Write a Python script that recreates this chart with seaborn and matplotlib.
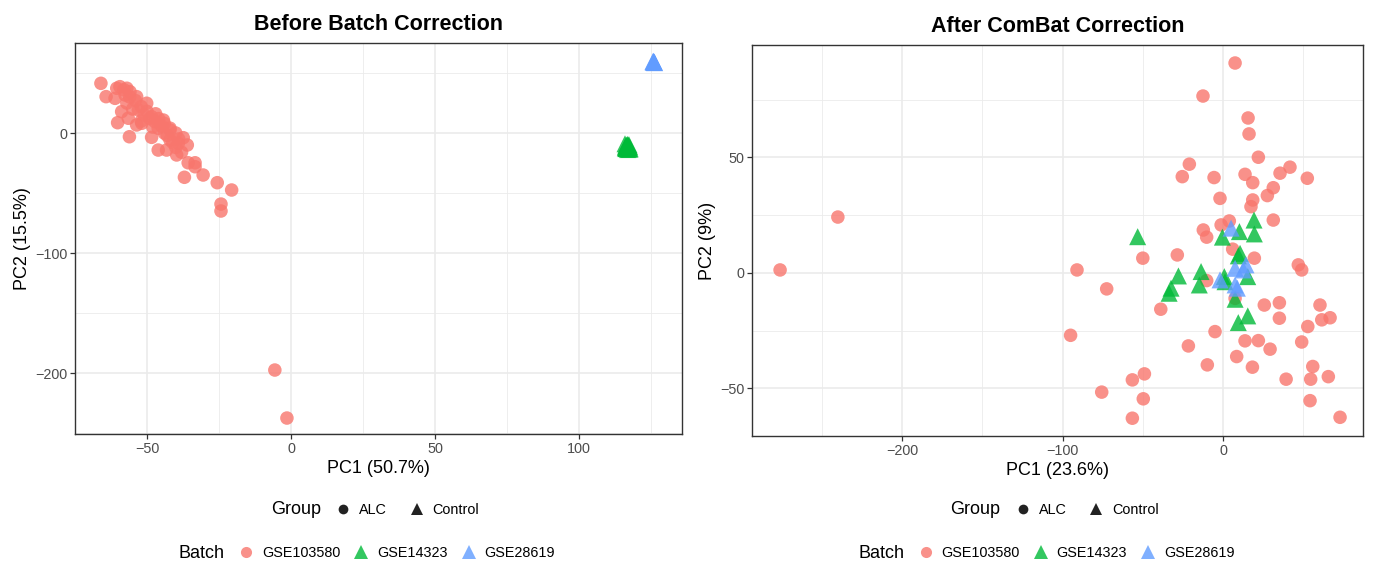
import numpy as np
import pandas as pd
import matplotlib
matplotlib.use("Agg")
import matplotlib.pyplot as plt
import seaborn as sns
from matplotlib.lines import Line2D
from matplotlib.ticker import MultipleLocator

# ---------------- data ----------------
batches = ["GSE103580", "GSE14323", "GSE28619"]
groups = ["ALC", "Control"]
batch_colors = ["#F8766D", "#00BA38", "#619CFF"]
batch_group = ["ALC", "Control", "Control"]

# Before correction (PC1 50.7%, PC2 15.5%)
before_gse103580_pc1 = [-66.0, -64.2, -60.5, -59.4, -57.0, -55.9, -53.6, -57.6, -61.1, -50.1,
                        -53.0, -58.8, -56.5, -60.2, -53.6, -51.8, -48.4, -47.2, -44.3, -46.1,
                        -42.0, -48.4, -56.1, -42.0, -37.4, -39.1, -46.1, -43.2, -39.7, -35.7,
                        -33.3, -33.3, -37.0, -30.5, -25.6, -20.6, -24.3, -24.3, -5.6, -1.4,
                        -58.0, -56.0, -52.0, -50.0, -49.0, -47.0, -45.0, -44.0, -43.0, -41.0,
                        -40.0, -38.0, -54.0, -51.0, -46.0, -44.0, -42.0, -40.0, -39.0, -36.0,
                        -48.0, -52.0, -55.0, -57.0]
before_gse103580_pc2 = [41.4, 30.3, 37.3, 38.6, 37.3, 34.4, 30.3, 31.7, 28.9, 24.8,
                        19.2, 17.8, 12.3, 8.6, 6.7, 8.1, 13.6, 9.4, 10.8, 3.9,
                        2.5, -3.6, -3.1, -5.8, -3.9, -8.6, -14.2, -14.2, -18.3, -24.8,
                        -24.8, -28.1, -36.9, -35.0, -41.4, -47.5, -59.2, -65.0, -197.5, -237.5,
                        36.0, 30.0, 22.0, 18.0, 12.0, 16.0, 6.0, 0.0, -2.0, -8.0,
                        -12.0, -16.0, 27.0, 15.0, 12.0, 8.0, 4.0, 0.0, -5.0, -10.0,
                        5.0, 10.0, 20.0, 25.0]
before_gse14323_pc1 = [116.0, 116.5, 117.0, 117.5, 116.2, 116.8, 117.3, 116.4, 117.1,
                       117.6, 116.1, 116.9, 117.4, 116.6, 117.2, 116.3, 117.8, 116.7]
before_gse14323_pc2 = [-9.0, -10.5, -12.0, -13.5, -11.0, -9.5, -12.5, -13.0, -10.0,
                       -11.5, -12.2, -13.8, -9.8, -11.8, -10.8, -12.8, -13.2, -10.2]
before_gse28619_pc1 = [125.8, 126.0, 126.2, 125.9, 126.1, 126.3, 125.7]
before_gse28619_pc2 = [59.0, 59.4, 58.8, 59.8, 59.2, 58.6, 59.5]

# After ComBat correction (PC1 23.6%, PC2 9%)
after_gse103580_pc1 = [22.0, -21.0, -25.4, -5.6, 13.7, 18.5, 35.5, 41.7, 52.5, 31.3,
                       27.6, -1.9, 18.5, 17.4, 31.3, -1.2, 3.9, -12.3, -10.2, -28.5,
                       -50.0, 6.0, 19.5, 46.9, 49.0, -72.5, -10.2, -38.8, 25.7, 35.1,
                       35.1, 60.4, 66.7, 61.5, 52.8, -5.0, -21.6, 13.7, 22.0, 49.0,
                       29.3, 7.5, -12.5, 15.6, 16.2, -276.0, -240.0, -95.0, -91.0, -75.6,
                       7.5, 8.5, -9.8, 18.3, 55.9, 39.3, 54.6, 65.6, 54.2, 72.9,
                       -49.0, -56.5, -49.7, -56.5]
after_gse103580_pc2 = [50.1, 47.1, 41.7, 41.3, 42.7, 39.1, 43.2, 45.8, 41.0, 36.9,
                       33.5, 32.3, 31.6, 28.7, 22.9, 20.8, 22.5, 18.6, 15.5, 7.8,
                       6.4, 10.3, 6.4, 3.5, 1.3, -6.9, -3.3, -15.7, -13.9, -12.9,
                       -19.6, -13.9, -19.4, -20.3, -23.2, -25.4, -31.6, -29.4, -29.3, -29.9,
                       -33.0, 90.9, 76.6, 67.1, 60.2, 1.3, 24.2, -27.0, 1.3, -51.6,
                       -11.0, -36.2, -39.8, -40.8, -40.5, -46.0, -46.0, -44.9, -55.3, -62.5,
                       -43.7, -46.3, -54.5, -62.9]
after_gse14323_pc1 = [-53.2, 19.3, 10.2, 19.5, -0.4, 10.6, 9.5, -27.8, -13.7, -14.8,
                      -32.4, -33.6, 0.8, 1.2, 15.4, 7.5, 15.4, 9.5]
after_gse14323_pc2 = [15.7, 22.9, 17.9, 16.9, 15.5, 8.5, 7.4, -1.3, 0.6, -5.2,
                      -6.6, -8.8, -1.6, -3.8, -1.6, -11.4, -18.6, -21.5]
after_gse28619_pc1 = [5.0, 7.5, 14.3, 12.6, -1.9, 7.5, 8.9]
after_gse28619_pc2 = [19.4, 2.0, 3.5, 1.3, -3.0, -5.2, -6.6]


def make_df(p1s, p2s):
    rows = []
    for b, g, p1, p2 in zip(batches, batch_group, p1s, p2s):
        for x, y in zip(p1, p2):
            rows.append((x, y, b, g))
    return pd.DataFrame(rows, columns=["PC1", "PC2", "Batch", "Group"])


df_before = make_df([before_gse103580_pc1, before_gse14323_pc1, before_gse28619_pc1],
                    [before_gse103580_pc2, before_gse14323_pc2, before_gse28619_pc2])
df_after = make_df([after_gse103580_pc1, after_gse14323_pc1, after_gse28619_pc1],
                   [after_gse103580_pc2, after_gse14323_pc2, after_gse28619_pc2])

# ---------------- style ----------------
sns.set_theme(style="white")
plt.rcParams["font.family"] = ["Liberation Sans", "DejaVu Sans"]
plt.rcParams["text.color"] = "black"
plt.rcParams["axes.labelcolor"] = "black"
plt.rcParams["axes.titlecolor"] = "black"

W, H = 1375, 564
fig = plt.figure(figsize=(W / 100, H / 100), dpi=100)
palette = dict(zip(batches, batch_colors))

def fx(px):
    return px / W

def fy(py):
    return 1 - py / H

panels = [
    dict(df=df_before, rect=(75, 43, 682, 434), title="Before Batch Correction",
         xlabel="PC1 (50.7%)", ylabel="PC2 (15.5%)", xlim=(-75, 135.8), ylim=(-250.8, 75),
         xmaj=50, xmin=25, ymaj=100, ymin=50),
    dict(df=df_after, rect=(752, 45, 1363, 436), title="After ComBat Correction",
         xlabel="PC1 (23.6%)", ylabel="PC2 (9%)", xlim=(-293.5, 87.2), ylim=(-70.6, 98.7),
         xmaj=100, xmin=50, ymaj=50, ymin=25),
]

for i, p in enumerate(panels):
    l, t, r, b = p["rect"]
    ax = fig.add_axes([fx(l), fy(b), fx(r - l), (b - t) / H])
    d = p["df"]
    sns.scatterplot(data=d[d.Group == "ALC"], x="PC1", y="PC2", hue="Batch", palette=palette,
                    marker="o", s=95, alpha=0.8, edgecolor="none", legend=False, ax=ax, zorder=3)
    sns.scatterplot(data=d[d.Group == "Control"], x="PC1", y="PC2", hue="Batch", palette=palette,
                    marker="^", s=150, alpha=0.8, edgecolor="none", legend=False, ax=ax, zorder=3)
    ax.set_xlim(*p["xlim"])
    ax.set_ylim(*p["ylim"])
    ax.xaxis.set_major_locator(MultipleLocator(p["xmaj"]))
    ax.xaxis.set_minor_locator(MultipleLocator(p["xmin"]))
    ax.yaxis.set_major_locator(MultipleLocator(p["ymaj"]))
    ax.yaxis.set_minor_locator(MultipleLocator(p["ymin"]))
    ax.grid(True, which="major", color="#EBEBEB", linewidth=1.2, zorder=0)
    ax.grid(True, which="minor", color="#EBEBEB", linewidth=0.6, zorder=0)
    ax.set_axisbelow(True)
    for s in ax.spines.values():
        s.set_color("#333333")
        s.set_linewidth(1.0)
        s.set_visible(True)
    ax.tick_params(which="major", direction="out", length=3.5, width=0.9, color="#333333",
                   labelcolor="#4D4D4D", labelsize=10.4, pad=2, bottom=True, left=True)
    ax.tick_params(which="minor", length=0)
    ax.set_xlabel(p["xlabel"], fontsize=13, color="black", labelpad=3)
    ax.set_ylabel(p["ylabel"], fontsize=13, color="black", labelpad=3)
    ax.set_title(p["title"], fontsize=15.5, fontweight="bold", pad=9, color="black")

    off = 0 if i == 0 else 679.5
    # Group legend
    fig.text(fx(321 + off), fy(510), "Group", fontsize=13, ha="right", va="center")
    gh = [Line2D([], [], linestyle="none", marker="o", markersize=7, color="#222222",
                 markeredgewidth=0),
          Line2D([], [], linestyle="none", marker="^", markersize=9, color="#222222",
                 markeredgewidth=0)]
    fig.legend(handles=gh, labels=groups, loc="center left",
               bbox_to_anchor=(fx(336 + off), fy(510)), ncol=2, frameon=False,
               fontsize=10.4, handlelength=1.0, handletextpad=0.6, columnspacing=1.55,
               borderpad=0, borderaxespad=0)
    # Batch legend
    fig.text(fx(225 + off), fy(553), "Batch", fontsize=13, ha="right", va="center")
    bh = [Line2D([], [], linestyle="none", marker=m, markersize=ms, color=c, alpha=0.8,
                 markeredgewidth=0)
          for m, ms, c in zip(["o", "^", "^"], [8, 10, 10], batch_colors)]
    fig.legend(handles=bh, labels=batches, loc="center left",
               bbox_to_anchor=(fx(239 + off), fy(553)), ncol=3, frameon=False,
               fontsize=10.4, handlelength=1.0, handletextpad=0.6, columnspacing=0.95,
               borderpad=0, borderaxespad=0)

fig.savefig("out.png", dpi=100)
